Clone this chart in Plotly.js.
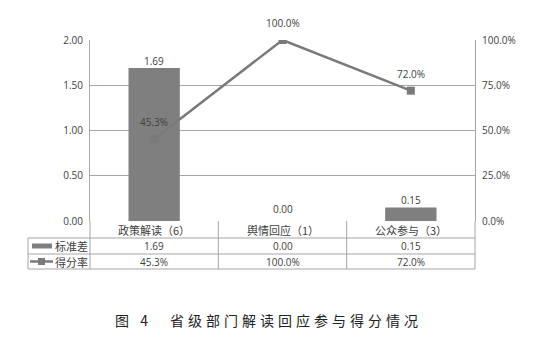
<!DOCTYPE html>
<html><head><meta charset="utf-8">
<script src="https://cdn.plot.ly/plotly-3.0.1.min.js"></script>
<style>body{margin:0;background:#fff}#c{width:542px;height:338px}</style>
</head><body><div id="c"></div>
<script>
const categories = ['政策解读（6）', '舆情回应（1）', '公众参与（3）'];
const stdDev = [1.69, 0.00, 0.15];
const scoreRate = [0.453, 1.000, 0.720];
const seriesNames = ['标准差', '得分率'];
const caption = '图 4　省级部门解读回应参与得分情况';

const W = 542, H = 338;
const L = 90, R = 475, T = 40, B = 221;
const px = x => (x - L) / (R - L);
const py = y => (B - y) / (B - T);
const gridC = '#a6a6a6';
const txtC = '#404040';
const cjk = '"Noto Sans CJK SC", "Open Sans", sans-serif';
const numF = '"Open Sans", "Noto Sans CJK SC", sans-serif';

const shapes = [];
function ln(x0, y0, x1, y1, c, w) {
  shapes.push({type: 'line', xref: 'paper', yref: 'paper', x0: px(x0), y0: py(y0), x1: px(x1), y1: py(y1),
    line: {color: c || gridC, width: w || 1}});
}
// table grid
ln(28, 238, R, 238); ln(28, 254, R, 254); ln(28, 269, R, 269);
ln(28, 238, 28, 269);
[L, 218.3, 346.7, R].forEach(x => ln(x, B, x, 269));
// legend keys
shapes.push({type: 'rect', xref: 'paper', yref: 'paper', x0: px(32), x1: px(52), y0: py(248.5), y1: py(243.5),
  fillcolor: '#7f7f7f', line: {width: 0}});
ln(30, 261.5, 53, 261.5, '#7a7a7a', 2.5);
shapes.push({type: 'rect', xref: 'paper', yref: 'paper', x0: px(38), x1: px(45), y0: py(265), y1: py(258),
  fillcolor: '#7a7a7a', line: {width: 0}});

const ann = [];
categories.forEach((c, i) => {
  ann.push({x: i, xref: 'x', y: py(229.5), yref: 'paper', text: c, showarrow: false,
    font: {family: cjk, size: 11, color: txtC}, yanchor: 'middle'});
  ann.push({x: i, xref: 'x', y: py(246), yref: 'paper', text: stdDev[i].toFixed(2), showarrow: false,
    font: {family: numF, size: 10, color: txtC}, yanchor: 'middle'});
  ann.push({x: i, xref: 'x', y: py(261.5), yref: 'paper', text: (scoreRate[i] * 100).toFixed(1) + '%', showarrow: false,
    font: {family: numF, size: 10, color: txtC}, yanchor: 'middle'});
  ann.push({x: i, xref: 'x', y: scoreRate[i], yref: 'y2', text: (scoreRate[i] * 100).toFixed(1) + '%', showarrow: false,
    font: {family: numF, size: 10, color: txtC}, yanchor: 'middle', yshift: 17});
  ann.push({x: i, xref: 'x', y: stdDev[i], yref: 'y', text: stdDev[i].toFixed(2), showarrow: false,
    font: {family: numF, size: 10, color: txtC}, yanchor: 'middle', yshift: stdDev[i] === 0 ? 12 : 7});
});
ann.push({x: px(71), xref: 'paper', y: py(246), yref: 'paper', text: seriesNames[0], showarrow: false,
  font: {family: cjk, size: 11, color: txtC}, yanchor: 'middle', xanchor: 'center'});
ann.push({x: px(71), xref: 'paper', y: py(261.5), yref: 'paper', text: seriesNames[1], showarrow: false,
  font: {family: cjk, size: 11, color: txtC}, yanchor: 'middle', xanchor: 'center'});
ann.push({x: px(268), xref: 'paper', y: py(320), yref: 'paper', text: caption, showarrow: false,
  font: {family: cjk, size: 14, color: '#222'}, yanchor: 'middle', xanchor: 'center', name: 'caption'});

const data = [
  {type: 'bar', x: [0, 1, 2], y: stdDev, name: seriesNames[0], marker: {color: '#7f7f7f'}, width: 0.4,
    hoverinfo: 'none'},
  {type: 'scatter', mode: 'lines+markers', x: [0, 1, 2], y: scoreRate, name: seriesNames[1], yaxis: 'y2',
    line: {color: '#7a7a7a', width: 2.5}, marker: {symbol: 'square', size: 8, color: '#7a7a7a'}, hoverinfo: 'none'}
];

const layout = {
  width: W, height: H, showlegend: false,
  margin: {l: L, r: W - R, t: T, b: H - B, pad: 0},
  paper_bgcolor: '#fff', plot_bgcolor: '#fff',
  xaxis: {range: [-0.5, 2.5], showticklabels: false, showgrid: false, zeroline: false, showline: false, ticks: '', fixedrange: true},
  yaxis: {range: [0, 2], dtick: 0.5, tickformat: '.2f', showgrid: true, gridcolor: gridC, gridwidth: 1,
    zeroline: false, showline: true, linecolor: gridC, linewidth: 1, ticks: '',
    tickfont: {family: numF, size: 10, color: txtC}, ticklabelstandoff: 4},
  yaxis2: {range: [0, 1], dtick: 0.25, tickformat: '.1%', overlaying: 'y', side: 'right', showgrid: false,
    zeroline: false, showline: true, linecolor: gridC, linewidth: 1, ticks: '',
    tickfont: {family: numF, size: 10, color: txtC}, ticklabelstandoff: 4},
  shapes: shapes, annotations: ann
};
Plotly.newPlot('c', data, layout, {staticPlot: true}).then(gd => {
  gd.querySelectorAll('.annotation-text').forEach(t => {
    if (t.textContent === caption) t.style.letterSpacing = '4px';
  });
});
</script></body></html>
